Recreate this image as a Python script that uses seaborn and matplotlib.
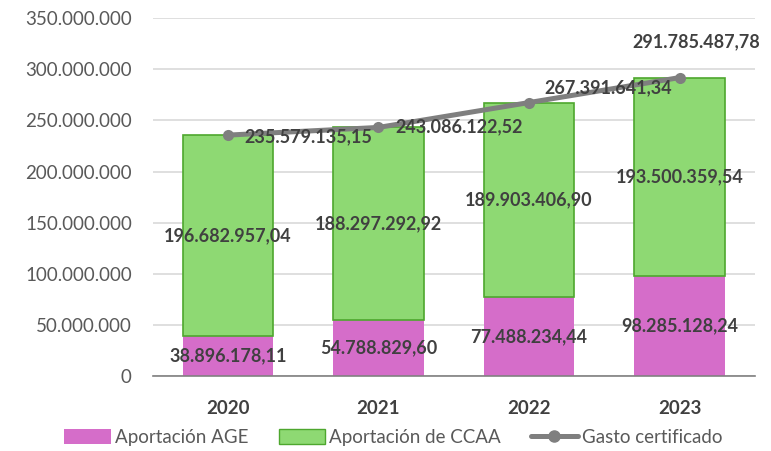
import matplotlib
matplotlib.use('Agg')
import matplotlib.pyplot as plt
import seaborn as sns
import pandas as pd
from matplotlib.patches import Patch
from matplotlib.lines import Line2D
from matplotlib.ticker import FuncFormatter

# datos
years = ['2020', '2021', '2022', '2023']
aport_age = [38896178.11, 54788829.60, 77488234.44, 98285128.24]
aport_ccaa = [196682957.04, 188297292.92, 189903406.90, 193500359.54]
gasto = [235579135.15, 243086122.52, 267391641.34, 291785487.78]

sns.set_style('white')
plt.rcParams['font.family'] = ['Lato', 'DejaVu Sans']

c_age = '#D56DC9'
c_ccaa = '#8ED973'
c_ccaa_edge = '#4EA72E'
c_line = '#7F7F7F'
c_text = '#404040'


def fmt_es(v, dec=2):
    s = f"{v:,.{dec}f}"
    return s.replace(',', 'X').replace('.', ',').replace('X', '.')


df = pd.DataFrame({'year': years, 'age': aport_age, 'ccaa': aport_ccaa, 'gasto': gasto})

fig = plt.figure(figsize=(7.71, 4.51), dpi=100)
ax = fig.add_axes([0.198, 0.166, 0.781, 0.794])

sns.barplot(data=df, x='year', y='age', color=c_age, width=0.6, ax=ax,
            saturation=1, linewidth=0, zorder=2)
sns.barplot(data=df, x='year', y='ccaa', bottom=df['age'], color=c_ccaa, width=0.6,
            ax=ax, saturation=1, edgecolor=c_ccaa_edge, linewidth=1.2, zorder=2)
sns.lineplot(x=range(len(years)), y=gasto, color=c_line, linewidth=3.6, marker='o',
             markersize=8, markeredgewidth=0, ax=ax, zorder=4)

# etiquetas
lbl = dict(fontsize=13, fontweight='bold', color=c_text, zorder=5)
for i in range(len(years)):
    ax.text(i, aport_age[i] / 2, fmt_es(aport_age[i]), ha='center', va='center', **lbl)
    ax.text(i, aport_age[i] + aport_ccaa[i] / 2, fmt_es(aport_ccaa[i]),
            ha='center', va='center', **lbl)

# posiciones de las etiquetas de la linea (puntos)
offsets = [(12, -1.5, 'left'), (12, 0.5, 'left'), (11, 11, 'left'), (12, 26, 'center')]
for i, (dx, dy, ha) in enumerate(offsets):
    ax.annotate(fmt_es(gasto[i]), (i, gasto[i]), xytext=(dx, dy), textcoords='offset points',
                ha=ha, va='center', **lbl)

ax.set_xlim(-0.5, 3.5)
ax.set_ylim(0, 350000000)
ax.set_yticks(range(0, 350000001, 50000000))
ax.yaxis.set_major_formatter(FuncFormatter(lambda v, p: fmt_es(v, 0)))
ax.grid(axis='y', color='#D9D9D9', linewidth=1.2, zorder=0)
ax.set_axisbelow(True)
for s in ['top', 'right', 'left']:
    ax.spines[s].set_visible(False)
ax.spines['bottom'].set_color('#808080')
ax.spines['bottom'].set_linewidth(1.2)
ax.set_xlabel('')
ax.set_ylabel('')
ax.tick_params(axis='y', labelsize=13.5, labelcolor='#595959', length=0, pad=15)
ax.tick_params(axis='x', labelsize=13.5, labelcolor=c_text, length=0, pad=17)
for t in ax.get_xticklabels():
    t.set_fontweight('bold')

handles = [
    Patch(facecolor=c_age, edgecolor='none', label='Aportación AGE'),
    Patch(facecolor=c_ccaa, edgecolor=c_ccaa_edge, label='Aportación de CCAA'),
    Line2D([0], [0], color=c_line, linewidth=3.6, marker='o', markersize=8, label='Gasto certificado'),
]
fig.legend(handles=handles, loc='center', bbox_to_anchor=(0.51, 0.03), ncol=3, frameon=False,
           fontsize=13.5, labelcolor='#595959', handlelength=2.5, handleheight=0.8,
           handletextpad=0.2, columnspacing=1.6)

fig.savefig('out.png', dpi=100)
